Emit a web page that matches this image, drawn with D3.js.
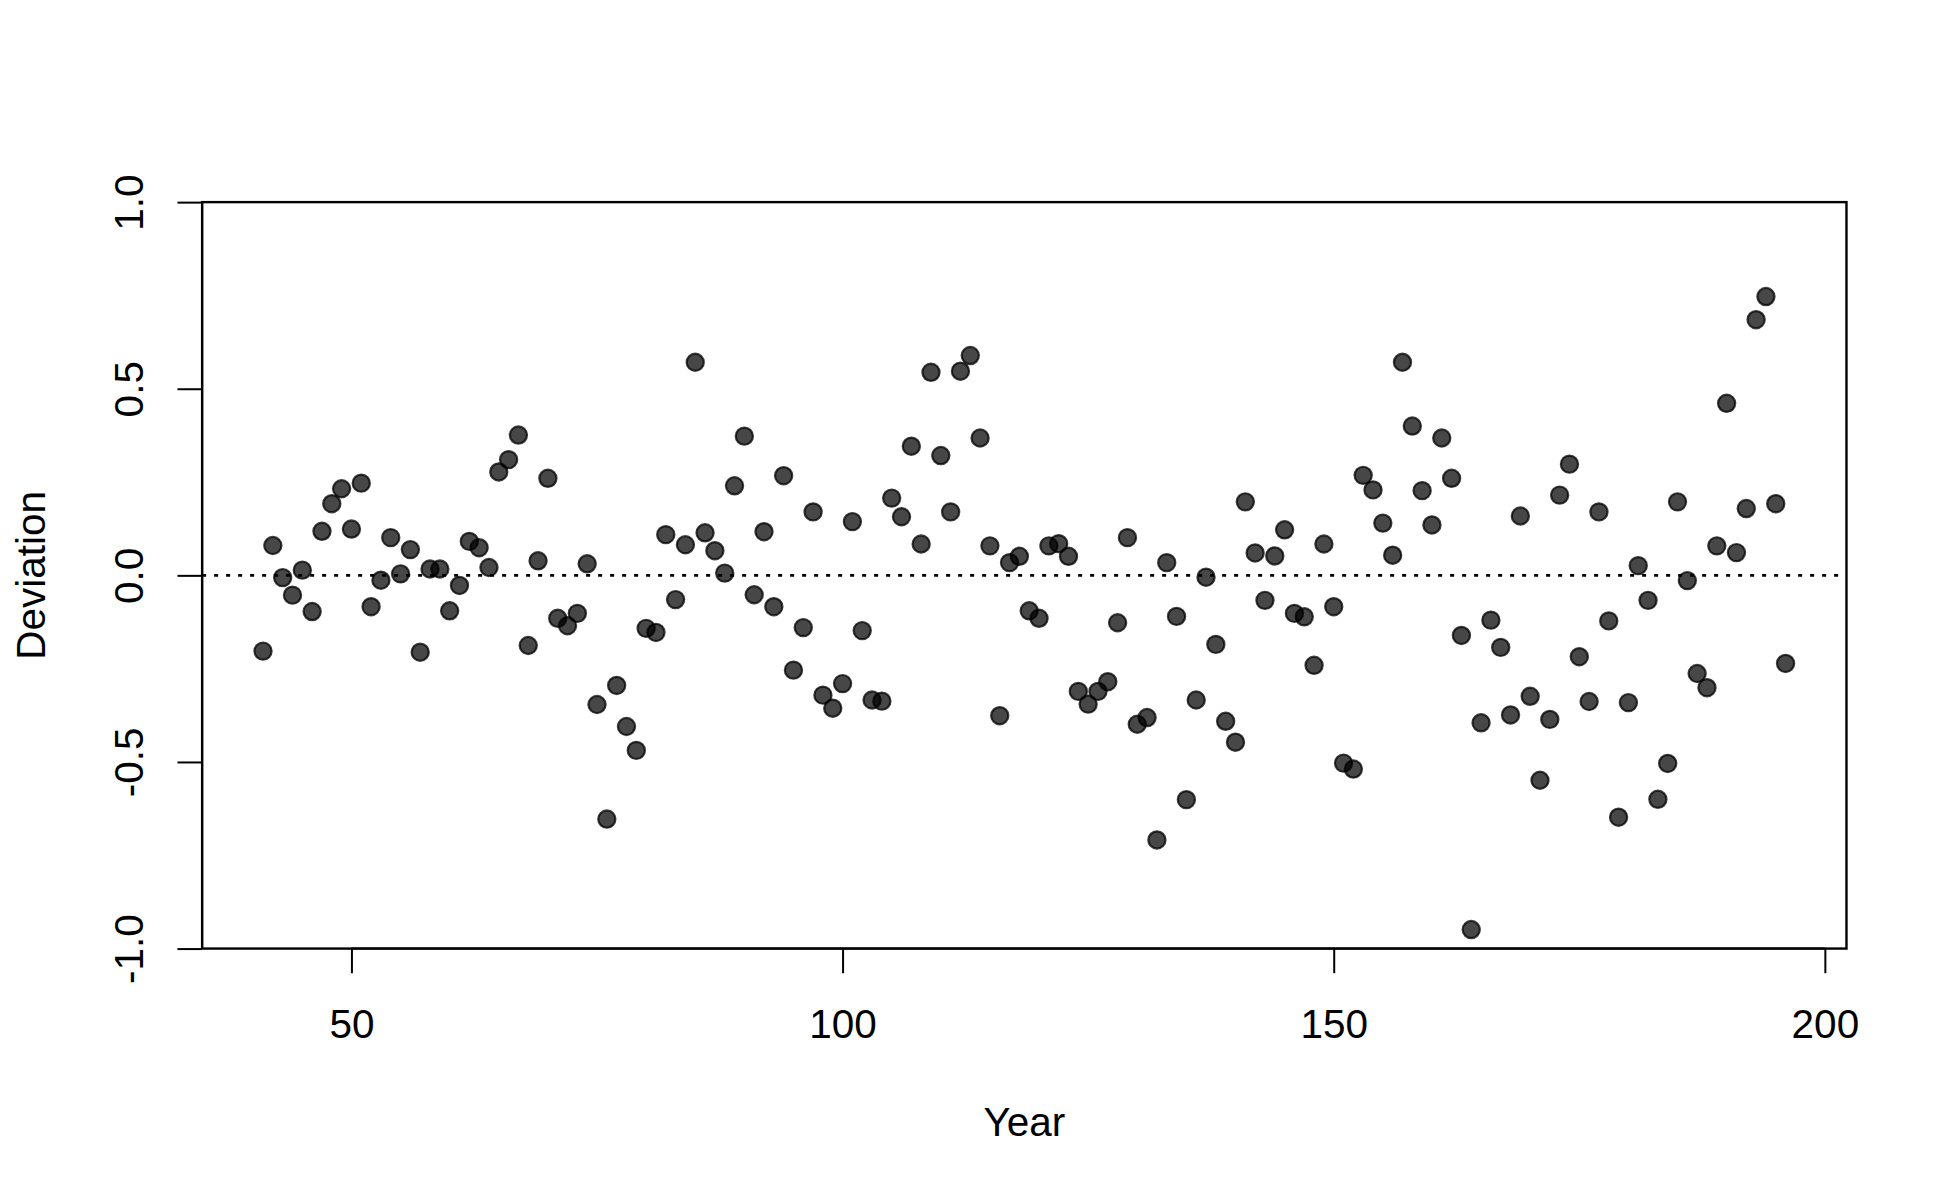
<!DOCTYPE html>
<html>
<head>
<meta charset="utf-8">
<script src="https://cdn.jsdelivr.net/npm/d3@7"></script>
<style>
  html, body { margin: 0; padding: 0; background: #ffffff; }
  svg { display: block; }
  text { font-family: "Liberation Sans", Arial, sans-serif; fill: #000; }
</style>
</head>
<body>
<svg id="chart" width="1950" height="1200"></svg>
<script>
// ---- data ----
const years = [
  41,42,43,44,45,46,47,48,49,50,51,52,53,54,55,56,57,58,59,60,
  61,62,63,64,65,66,67,68,69,70,71,72,73,74,75,76,77,78,79,80,
  81,82,83,84,85,86,87,88,89,90,91,92,93,94,95,96,97,98,99,100,
  101,102,103,104,105,106,107,108,109,110,111,112,113,114,115,116,117,118,119,120,
  121,122,123,124,125,126,127,128,129,130,131,132,133,134,135,136,137,138,139,140,
  141,142,143,144,145,146,147,148,149,150,151,152,153,154,155,156,157,158,159,160,
  161,162,163,164,165,166,167,168,169,170,171,172,173,174,175,176,177,178,179,180,
  181,182,183,184,185,186,187,188,189,190,191,192,193,194,195,196
];
const deviation = [
  -0.203, 0.080,-0.006,-0.053, 0.014,-0.097, 0.118, 0.192, 0.232, 0.124,
   0.247,-0.084,-0.013, 0.101, 0.004, 0.069,-0.206, 0.017, 0.017,-0.095,
  -0.027, 0.091, 0.074, 0.021, 0.277, 0.310, 0.376,-0.188, 0.039, 0.260,
  -0.115,-0.135,-0.102, 0.031,-0.346,-0.653,-0.295,-0.405,-0.469,-0.142,
  -0.153, 0.109,-0.065, 0.082, 0.571, 0.114, 0.066, 0.006, 0.240, 0.373,
  -0.052, 0.117,-0.084, 0.267,-0.254,-0.140, 0.170,-0.321,-0.356,-0.290,
   0.144,-0.148,-0.334,-0.337, 0.207, 0.157, 0.346, 0.084, 0.544, 0.321,
   0.170, 0.547, 0.589, 0.368, 0.079,-0.376, 0.034, 0.051,-0.095,-0.115,
   0.079, 0.085, 0.051,-0.311,-0.345,-0.311,-0.285,-0.127, 0.101,-0.399,
  -0.381,-0.709, 0.034,-0.110,-0.601,-0.334,-0.005,-0.185,-0.391,-0.447,
   0.197, 0.060,-0.067, 0.052, 0.122,-0.102,-0.111,-0.241, 0.084,-0.084,
  -0.503,-0.519, 0.268, 0.229, 0.140, 0.054, 0.571, 0.400, 0.227, 0.135,
   0.368, 0.260,-0.161,-0.949,-0.395,-0.120,-0.193,-0.374, 0.159,-0.324,
  -0.549,-0.386, 0.215, 0.298,-0.218,-0.338, 0.170,-0.122,-0.648,-0.341,
   0.026,-0.067,-0.600,-0.504, 0.197,-0.014,-0.263,-0.301, 0.079, 0.461,
   0.061, 0.179, 0.685, 0.747, 0.192,-0.236
];
const xTicks = [50, 100, 150, 200];
const yTicks = [-1.0, -0.5, 0.0, 0.5, 1.0];
const yTickLabels = ["-1.0", "-0.5", "0.0", "0.5", "1.0"];
const xLabel = "Year";
const yLabel = "Deviation";
const refLine = 0;

// ---- layout ----
const W = 1950, H = 1200;
const lineH = 49.3;                // R margin line height
const margin = { top: 4.1 * lineH, right: 2.1 * lineH, bottom: 5.1 * lineH, left: 4.1 * lineH };
const x0 = margin.left, x1 = W - margin.right;
const y0 = margin.top, y1 = H - margin.bottom;
const fontSize = 40.5;
const tickLen = 0.5 * lineH;

const svg = d3.select("#chart");

const xExt = d3.extent(years);
const pad = 0.04 * (xExt[1] - xExt[0]);
const x = d3.scaleLinear().domain([xExt[0] - pad, xExt[1] + pad]).range([x0, x1]);
const y = d3.scaleLinear().domain([-1, 1]).range([y1, y0]);

const data = years.map((yr, i) => ({ year: yr, value: deviation[i] }));

// points
svg.append("g")
  .selectAll("circle")
  .data(data)
  .enter().append("circle")
  .attr("cx", d => x(d.year))
  .attr("cy", d => y(d.value))
  .attr("r", 8.6)
  .attr("fill", "rgba(0,0,0,0.72)")
  .attr("stroke", "rgba(0,0,0,0.75)")
  .attr("stroke-width", 2.2);

// dotted reference line
svg.append("line")
  .attr("x1", x0).attr("x2", x1)
  .attr("y1", y(refLine)).attr("y2", y(refLine))
  .attr("stroke", "#000")
  .attr("stroke-width", 2.6)
  .attr("stroke-dasharray", "4,8");

// box
svg.append("rect")
  .attr("x", x0).attr("y", y0)
  .attr("width", x1 - x0).attr("height", y1 - y0)
  .attr("fill", "none")
  .attr("stroke", "#000")
  .attr("stroke-width", 2.4);

// x axis
const gx = svg.append("g")
  .attr("transform", `translate(0,${y1})`)
  .call(d3.axisBottom(x).tickValues(xTicks).tickSize(tickLen).tickSizeOuter(0).tickFormat(d3.format("d")));
gx.select(".domain")
  .attr("d", `M${x(xTicks[0])},0H${x(xTicks[xTicks.length - 1])}`)
  .attr("stroke-width", 2);
gx.selectAll(".tick line").attr("stroke-width", 2);
gx.selectAll(".tick text")
  .attr("y", 89.5).attr("dy", null)
  .style("font-size", fontSize + "px")
  .style("font-family", '"Liberation Sans", Arial, sans-serif');

// y axis
const gy = svg.append("g")
  .attr("transform", `translate(${x0},0)`)
  .call(d3.axisLeft(y).tickValues(yTicks).tickSize(tickLen).tickSizeOuter(0)
    .tickFormat((d, i) => yTickLabels[i]));
gy.select(".domain")
  .attr("d", `M0,${y(yTicks[0])}V${y(yTicks[yTicks.length - 1])}`)
  .attr("stroke-width", 2);
gy.selectAll(".tick line").attr("stroke-width", 2);
gy.selectAll(".tick text")
  .attr("x", null).attr("dy", null)
  .attr("text-anchor", "middle")
  .attr("transform", "translate(-59,0) rotate(-90)")
  .style("font-size", fontSize + "px")
  .style("font-family", '"Liberation Sans", Arial, sans-serif');

// axis titles
svg.append("text")
  .attr("x", (x0 + x1) / 2)
  .attr("y", 1136)
  .attr("text-anchor", "middle")
  .style("font-size", fontSize + "px")
  .text(xLabel);

svg.append("text")
  .attr("transform", `translate(45,${(y0 + y1) / 2}) rotate(-90)`)
  .attr("text-anchor", "middle")
  .style("font-size", fontSize + "px")
  .text(yLabel);
</script>
</body>
</html>
